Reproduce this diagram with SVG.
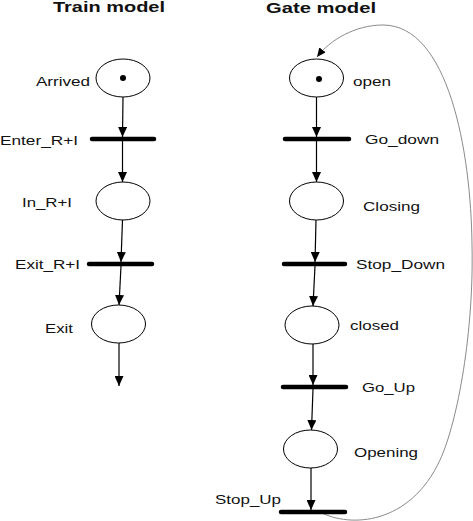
<svg xmlns="http://www.w3.org/2000/svg" width="473" height="521" viewBox="0 0 473 521">
<defs>
<style>
.pl{fill:#fff;stroke:#000;stroke-width:1}
.tr{stroke:#000;stroke-width:4.5;stroke-linecap:round}
.tk{fill:#000}
.ar{fill:none;stroke:#000;stroke-width:1.2;marker-end:url(#ah)}
.loop{fill:none;stroke:#8a8a8a;stroke-width:1;marker-end:url(#ah2)}
.lb{font-family:"Liberation Sans",Arial,sans-serif;font-size:13.5px;fill:#111}
.tt{font-family:"Liberation Sans",Arial,sans-serif;font-size:14px;font-weight:bold;fill:#111}
</style>
<marker id="ah" markerUnits="userSpaceOnUse" markerWidth="10" markerHeight="9" refX="10" refY="4.5" orient="auto">
<path d="M0,0 L10,4.5 L0,9 z" fill="#000"/>
</marker>
<marker id="ah2" markerUnits="userSpaceOnUse" markerWidth="9" markerHeight="8" refX="9" refY="4" orient="auto">
<path d="M0,0 L9,4 L0,8 z" fill="#000"/>
</marker>
</defs>
<rect width="473" height="521" fill="#fff"/>
<text class="tt" x="53" y="11.5" textLength="112" lengthAdjust="spacingAndGlyphs">Train model</text>
<text class="tt" x="266" y="12.7" textLength="110" lengthAdjust="spacingAndGlyphs">Gate model</text>

<g id="connectors">
<path class="ar" d="M123,97 L122.5,137"/>
<path class="ar" d="M122.5,141 L122.5,182"/>
<path class="ar" d="M122.5,220 L121,262"/>
<path class="ar" d="M121,266 L119,305"/>
<path class="ar" d="M119,343 L119,386"/>
<path class="ar" d="M316.5,97 L316.5,137"/>
<path class="ar" d="M316.5,141 L316.5,182"/>
<path class="ar" d="M316,220 L315,262"/>
<path class="ar" d="M315,266 L313,306"/>
<path class="ar" d="M313,344 L313,385"/>
<path class="ar" d="M313,389 L311.5,430"/>
<path class="ar" d="M311,468 L311,510"/>
<path class="loop" d="M320,512 C350,528 410,525 440,460 C458,421 474,330 472,245 C471,150 448,25 383,25 C355,25 330,40 317,57"/>
</g>

<g id="arrived"><ellipse class="pl" cx="123" cy="78" rx="27" ry="19"/><circle class="tk" cx="123" cy="78" r="3"/><text class="lb" x="36" y="85.5" textLength="54" lengthAdjust="spacingAndGlyphs">Arrived</text></g>
<g id="enter"><line class="tr" x1="92" y1="139" x2="154" y2="139"/><text class="lb" x="0" y="144.5" textLength="78" lengthAdjust="spacingAndGlyphs">Enter_R+I</text></g>
<g id="in"><ellipse class="pl" cx="123" cy="201" rx="27" ry="19"/><text class="lb" x="22" y="207" textLength="50" lengthAdjust="spacingAndGlyphs">In_R+I</text></g>
<g id="exitri"><line class="tr" x1="89" y1="264" x2="152" y2="264"/><text class="lb" x="15" y="269" textLength="65" lengthAdjust="spacingAndGlyphs">Exit_R+I</text></g>
<g id="exit"><ellipse class="pl" cx="118.5" cy="324" rx="27" ry="19"/><text class="lb" x="45" y="333" textLength="28" lengthAdjust="spacingAndGlyphs">Exit</text></g>

<g id="open"><ellipse class="pl" cx="316.5" cy="78" rx="27" ry="19"/><circle class="tk" cx="319" cy="79" r="3"/><text class="lb" x="353" y="86" textLength="38" lengthAdjust="spacingAndGlyphs">open</text></g>
<g id="godown"><line class="tr" x1="285" y1="139" x2="349" y2="139"/><text class="lb" x="365" y="143.5" textLength="74" lengthAdjust="spacingAndGlyphs">Go_down</text></g>
<g id="closing"><ellipse class="pl" cx="316.5" cy="201" rx="27" ry="19"/><text class="lb" x="363" y="211" textLength="57" lengthAdjust="spacingAndGlyphs">Closing</text></g>
<g id="stopdown"><line class="tr" x1="284" y1="264" x2="345" y2="264"/><text class="lb" x="356" y="269" textLength="89" lengthAdjust="spacingAndGlyphs">Stop_Down</text></g>
<g id="closed"><ellipse class="pl" cx="312" cy="325" rx="27" ry="19"/><text class="lb" x="350" y="330" textLength="49" lengthAdjust="spacingAndGlyphs">closed</text></g>
<g id="goup"><line class="tr" x1="283" y1="387" x2="346" y2="387"/><text class="lb" x="362" y="391.7" textLength="53" lengthAdjust="spacingAndGlyphs">Go_Up</text></g>
<g id="opening"><ellipse class="pl" cx="310.5" cy="449" rx="27" ry="19"/><text class="lb" x="354" y="456.5" textLength="64" lengthAdjust="spacingAndGlyphs">Opening</text></g>
<g id="stopup"><line class="tr" x1="281" y1="512" x2="345" y2="512"/><text class="lb" x="215" y="504" textLength="66" lengthAdjust="spacingAndGlyphs">Stop_Up</text></g>
</svg>
